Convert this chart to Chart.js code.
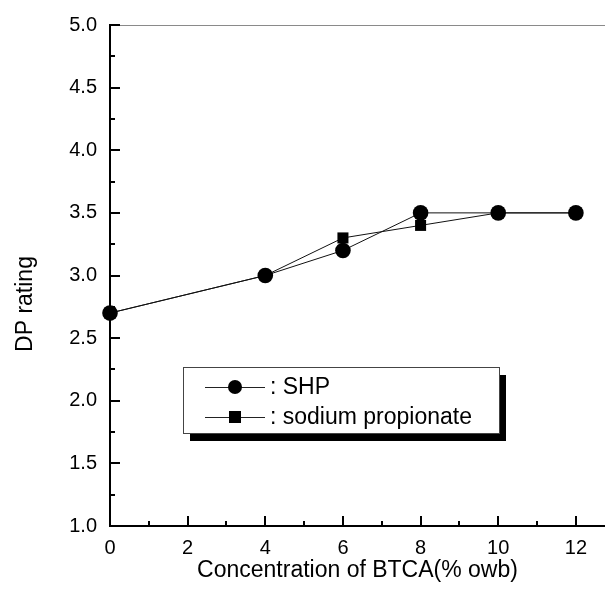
<!DOCTYPE html>
<html>
<head>
<meta charset="utf-8">
<script src="https://cdn.jsdelivr.net/npm/chart.js@4.4.1/dist/chart.umd.min.js"></script>
<style>
  html, body { margin: 0; padding: 0; background: #fff; }
  canvas { display: block; }
</style>
</head>
<body>
<canvas id="dp-chart" width="605" height="598"></canvas>
<script>
// BTCA concentration (% owb) vs DP rating, two additives
const concentration = [0, 4, 6, 8, 10, 12];
const shpRating = [2.7, 3.0, 3.2, 3.5, 3.5, 3.5];
const propionateRating = [2.7, 3.0, 3.3, 3.4, 3.5, 3.5];

const xTicks = [0, 2, 4, 6, 8, 10, 12];
const yTicks = [1.0, 1.5, 2.0, 2.5, 3.0, 3.5, 4.0, 4.5, 5.0];

const seriesNames = ['SHP', 'sodium propionate'];

const FONT = '"Liberation Sans", Arial, sans-serif';

function points(ys) {
  return concentration.map((x, i) => ({ x: x, y: ys[i] }));
}

// inward tick marks (major + minor), the thin top line and the y title
const frame = {
  id: 'frame',
  afterDraw(chart) {
    const ctx = chart.ctx;
    const area = chart.chartArea;
    const xs = chart.scales.x;
    const ys = chart.scales.y;
    ctx.save();

    ctx.strokeStyle = '#8a8a8a';
    ctx.lineWidth = 1;
    ctx.beginPath();
    ctx.moveTo(area.left, area.top + 0.5);
    ctx.lineTo(area.right, area.top + 0.5);
    ctx.stroke();

    ctx.strokeStyle = '#000';
    ctx.lineWidth = 2;
    ctx.beginPath();
    for (let v = 1; v <= 12; v++) {
      const px = Math.round(xs.getPixelForValue(v));
      const len = v % 2 === 0 ? 10 : 5;
      ctx.moveTo(px, area.bottom);
      ctx.lineTo(px, area.bottom - len);
    }
    for (let k = 1; k <= 16; k++) {
      const v = 1 + k * 0.25;
      const py = Math.round(ys.getPixelForValue(v));
      const len = k % 2 === 0 ? 10 : 5;
      ctx.moveTo(area.left, py);
      ctx.lineTo(area.left + len, py);
    }
    ctx.stroke();

    ctx.fillStyle = '#000';
    ctx.font = '23px ' + FONT;
    ctx.textAlign = 'center';
    ctx.textBaseline = 'middle';
    ctx.translate(26, 304);
    ctx.rotate(-Math.PI / 2);
    ctx.fillText('DP rating', 0, 0);
    ctx.restore();
  }
};

// boxed legend with a drop shadow
const boxLegend = {
  id: 'boxLegend',
  afterDraw(chart) {
    const ctx = chart.ctx;
    const box = { x: 183, y: 367, w: 316, h: 66 };
    ctx.save();
    ctx.fillStyle = '#000';
    ctx.fillRect(box.x + 7, box.y + 8, box.w, box.h);
    ctx.fillStyle = '#fff';
    ctx.fillRect(box.x, box.y, box.w, box.h);
    ctx.strokeStyle = '#444';
    ctx.lineWidth = 1;
    ctx.strokeRect(box.x + 0.5, box.y + 0.5, box.w, box.h);

    const rows = [box.y + 20, box.y + 50];
    ctx.font = '23px ' + FONT;
    ctx.textBaseline = 'middle';
    ctx.textAlign = 'left';
    rows.forEach((ry, i) => {
      ctx.strokeStyle = '#222';
      ctx.lineWidth = 1;
      ctx.beginPath();
      ctx.moveTo(205, ry + 0.5);
      ctx.lineTo(265, ry + 0.5);
      ctx.stroke();
      ctx.fillStyle = '#000';
      if (i === 0) {
        ctx.beginPath();
        ctx.arc(235, ry, 7, 0, Math.PI * 2);
        ctx.fill();
      } else {
        ctx.fillRect(229, ry - 6, 12, 12);
      }
      ctx.fillText(': ' + seriesNames[i], 270, ry + 1);
    });
    ctx.restore();
  }
};

new Chart(document.getElementById('dp-chart'), {
  type: 'line',
  data: {
    datasets: [
      {
        label: seriesNames[0],
        data: points(shpRating),
        borderColor: '#111',
        borderWidth: 1,
        pointStyle: 'circle',
        pointRadius: 7.8,
        pointBackgroundColor: '#000',
        pointBorderWidth: 0,
        clip: false
      },
      {
        label: seriesNames[1],
        data: points(propionateRating),
        borderColor: '#111',
        borderWidth: 1,
        pointStyle: 'rect',
        pointRadius: 7.8,
        pointBackgroundColor: '#000',
        pointBorderWidth: 0,
        clip: false
      }
    ]
  },
  options: {
    responsive: false,
    animation: false,
    devicePixelRatio: 1,
    layout: { autoPadding: false, padding: { top: 22, right: 0, left: 0, bottom: 0 } },
    plugins: { legend: { display: false }, tooltip: { enabled: false } },
    scales: {
      x: {
        type: 'linear',
        min: 0,
        max: 12.75,
        afterBuildTicks: s => { s.ticks = xTicks.map(v => ({ value: v })); },
        afterFit: s => { s.height = 72; },
        grid: { display: false, drawTicks: false },
        border: { display: true, color: '#000', width: 2 },
        ticks: { color: '#000', padding: 10, font: { family: FONT, size: 20 } },
        title: {
          display: true,
          text: 'Concentration of BTCA(% owb)',
          color: '#000',
          font: { family: FONT, size: 23 },
          padding: { top: 0, bottom: 14 }
        }
      },
      y: {
        type: 'linear',
        min: 1,
        max: 5,
        afterBuildTicks: s => { s.ticks = yTicks.map(v => ({ value: v })); },
        afterFit: s => { s.width = 110; },
        grid: { display: false, drawTicks: false },
        border: { display: true, color: '#000', width: 2 },
        ticks: {
          color: '#000',
          padding: 13,
          font: { family: FONT, size: 20 },
          callback: v => v.toFixed(1)
        }
      }
    }
  },
  plugins: [frame, boxLegend]
});
</script>
</body>
</html>
